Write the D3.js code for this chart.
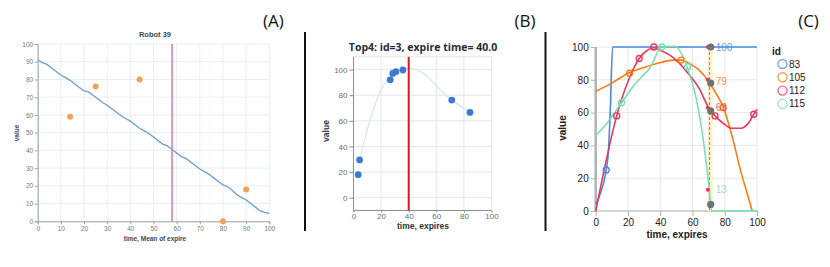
<!DOCTYPE html>
<html>
<head>
<meta charset="utf-8">
<script src="https://cdn.jsdelivr.net/npm/d3@7"></script>
<style>
  body { margin: 0; background: #fff; }
  svg { display: block; }
</style>
</head>
<body>
<svg></svg>
<script>
var width = 830;
var height = 267;

// ---- panel A data
var robotLine = [[0,91],[2,89.5],[4,88.5],[6,86.5],[8,84.5],[10,82.5],[12,81],[14,79.5],[16,77.5],[18,75.5],
  [20,73.5],[22,73],[24,71],[26,69],[28,67],[30,65.5],[32,63.5],[34,61.5],[36,59.5],[38,58],[40,56.5],
  [42,54.5],[44,52.5],[46,51],[48,49.5],[50,47.5],[52,45.5],[54,43.5],[56,42.5],[58,40.5],[60,38.5],
  [62,36.5],[64,35.5],[66,33.5],[68,31.5],[70,29.5],[72,28],[74,26.5],[76,24.5],[78,22.5],[80,20.5],
  [82,19.5],[84,17.5],[86,15],[88,13.5],[90,12],[92,10],[94,8],[96,6],[98,5],[100,4.5]];
var robotPoints = [[14,59],[25,76],[44,80],[80,0],[90,18]];
var robotMarker = 58;
var ticksA = d3.range(0, 101, 10);

// ---- panel B data
var topPoints = [[3.4,18],[4.4,29.5],[26.6,92],[28.5,97],[30.7,98.4],[35.8,99.7],[71.2,76.2],[84.4,66.6]];
var topCurve = [[4.4,29.7],[8,45],[11.7,60],[15,71],[19,83],[25,93.7],[30,98.5],[36,101],[42,101.5],
  [50.7,97.6],[55,93],[60.5,87],[65,82],[70.2,76.8],[77.5,71.5],[84.1,66.4]];
var topExpire = 40;
var ticksBx = [0,20,40,60,80,100];
var ticksBy = [0,20,40,60,80,100];

// ---- panel C data
var ids = ["83","105","112","115"];
var idColors = ["#4a86e8","#fb7d12","#e8385c","#79deb1"];
var line83 = [[0,4],[3,11],[6.5,25],[8,38],[9,60],[10.5,100],[100,100]];
var line105 = [[0,73],[10,78],[20,84],[30,87.5],[40,90.5],[48,92],[53,92],[58,90],[64,86],[70,79],
  [75,71],[79,63.5],[85,44],[90,24],[95,7],[97,0]];
var line112 = [[0,0],[5,24],[13,58],[20,79],[27,93],[32,98],[36,99.5],[40,98],[46,95],[52,90],[58,83],
  [64,75],[70,63],[74,58],[79,53.5],[84,50.5],[90,50.5],[95,54],[98,59],[100,62]];
var line115 = [[0,46],[7,53.5],[16,66],[24,77],[34,88],[41,100],[49,100.5],[57,87],[62,70],[67,41],
  [70,17],[72,0],[100,0]];
var marks83 = [[6.5,25]];
var marks105 = [[21,84],[53,92],[79,63]];
var marks112 = [[13,58],[27,93],[36,100],[74,58],[98,59]];
var marks115 = [[16,66],[41,100],[57,88]];
var cursorX = 70.5;
var cursorDots = [100,80,63,13];
var cursorGray = [100,78,61,4];
var cursorLabels = ["100","79","63","13"];
var ticksC = [0,20,40,60,80,100];

var svg = d3.select('svg')
    .attr("width", width)
    .attr("height", height);

// separators and panel letters
[305, 545.5].forEach(function(x) {
  svg.append('line')
    .attr("x1", x).attr("x2", x)
    .attr("y1", 32).attr("y2", 231)
    .attr("stroke", '#111')
    .attr("stroke-width", 2);
});
[["(A)",273.5],["(B)",525],["(C)",808.5]].forEach(function(d) {
  svg.append('text')
    .attr("x", d[1]).attr("y", 27)
    .attr("text-anchor", 'middle')
    .attr("font-family", 'Open Sans, sans-serif')
    .attr("font-size", 17)
    .attr("fill", '#111')
    .text(d[0]);
});

// ================= panel A
var xA = d3.scaleLinear().domain([0,100]).range([37.7,269.3]);
var yA = d3.scaleLinear().domain([0,100]).range([221.3,44]);
var gA = svg.append('g').attr("font-family", 'Liberation Sans, Arial, sans-serif');

gA.append('g').selectAll('line').data(ticksA).enter().append('line')
    .attr("x1", function(d){ return xA(d); }).attr("x2", function(d){ return xA(d); })
    .attr("y1", yA(0)).attr("y2", yA(100))
    .attr("stroke", '#e2ebef').attr("stroke-width", 0.8);
gA.append('g').selectAll('line').data(ticksA).enter().append('line')
    .attr("x1", xA(0)).attr("x2", xA(100))
    .attr("y1", function(d){ return yA(d); }).attr("y2", function(d){ return yA(d); })
    .attr("stroke", '#e2ebef').attr("stroke-width", 0.8);

var axA1 = gA.append('g').attr("transform", "translate(0," + yA(0) + ")")
    .call(d3.axisBottom(xA).tickValues(ticksA).tickSize(3).tickPadding(2));
var axA2 = gA.append('g').attr("transform", "translate(" + xA(0) + ",0)")
    .call(d3.axisLeft(yA).tickValues(ticksA).tickSize(3).tickPadding(1.5));
[axA1, axA2].forEach(function(ax) {
  ax.select('.domain').attr("stroke", '#9aa4aa');
  ax.selectAll('.tick line').attr("stroke", '#9aa4aa');
  ax.selectAll('text').attr("font-size", 6.5).attr("fill", '#777').attr("font-family", 'Liberation Sans, Arial, sans-serif');
});

gA.append('path')
    .datum(robotLine)
    .attr("d", d3.line().x(function(d){ return xA(d[0]); }).y(function(d){ return yA(d[1]); }))
    .attr("fill", 'none')
    .attr("stroke", '#6a9fcc')
    .attr("stroke-width", 1.3);
gA.append('line')
    .attr("x1", xA(robotMarker)).attr("x2", xA(robotMarker))
    .attr("y1", yA(100)).attr("y2", yA(0))
    .attr("stroke", '#d57aa5').attr("stroke-width", 1.5);
gA.selectAll('circle.pt').data(robotPoints).enter().append('circle')
    .attr("class", 'pt')
    .attr("cx", function(d){ return xA(d[0]); })
    .attr("cy", function(d){ return yA(d[1]); })
    .attr("r", 3)
    .attr("fill", '#f3a155');
gA.append('text')
    .attr("x", 155).attr("y", 36.5)
    .attr("text-anchor", 'middle')
    .attr("font-size", 7.5).attr("font-weight", 'bold').attr("fill", '#3c4a56')
    .text("Robot 39");
gA.append('text')
    .attr("x", 155).attr("y", 240.5)
    .attr("text-anchor", 'middle')
    .attr("font-size", 6.5).attr("font-weight", 'bold').attr("fill", '#3c4a56')
    .text("time, Mean of expire");
gA.append('text')
    .attr("transform", "translate(19,133) rotate(-90)")
    .attr("text-anchor", 'middle')
    .attr("font-size", 6.5).attr("font-weight", 'bold').attr("fill", '#3c4a56')
    .text("value");

// ================= panel B
var xB = d3.scaleLinear().domain([0,100]).range([353.5,491.5]);
var yB = d3.scaleLinear().domain([-10,110]).range([210.5,56.8]);
var gB = svg.append('g').attr("font-family", 'Liberation Sans, Arial, sans-serif');

gB.append('g').selectAll('line').data(ticksBx).enter().append('line')
    .attr("x1", function(d){ return xB(d); }).attr("x2", function(d){ return xB(d); })
    .attr("y1", yB(-10)).attr("y2", yB(110))
    .attr("stroke", '#e1e7ec').attr("stroke-width", 1);
gB.append('g').selectAll('line').data(ticksBy.concat([110])).enter().append('line')
    .attr("x1", xB(0)).attr("x2", xB(100))
    .attr("y1", function(d){ return yB(d); }).attr("y2", function(d){ return yB(d); })
    .attr("stroke", '#e1e7ec').attr("stroke-width", 1);

var axB1 = gB.append('g').attr("transform", "translate(0," + yB(-10) + ")")
    .call(d3.axisBottom(xB).tickValues(ticksBx).tickSize(2).tickPadding(1));
var axB2 = gB.append('g').attr("transform", "translate(" + xB(0) + ",0)")
    .call(d3.axisLeft(yB).tickValues(ticksBy).tickSize(4).tickPadding(2));
[axB1, axB2].forEach(function(ax) {
  ax.select('.domain').attr("stroke", '#8a8f94');
  ax.selectAll('.tick line').attr("stroke", '#8a8f94');
  ax.selectAll('text').attr("font-size", 8).attr("fill", '#6a6f74').attr("font-family", 'Liberation Sans, Arial, sans-serif');
});
axB1.select('.domain').attr("d", "M" + xB(0) + ",0H" + xB(100));
axB2.select('.domain').attr("d", "M0," + yB(-10) + "V" + yB(110));

gB.append('path')
    .datum(topCurve)
    .attr("d", d3.line().curve(d3.curveBasis).x(function(d){ return xB(d[0]); }).y(function(d){ return yB(d[1]); }))
    .attr("fill", 'none')
    .attr("stroke", '#d7e6f4')
    .attr("stroke-width", 1.3);
gB.append('line')
    .attr("x1", xB(topExpire)).attr("x2", xB(topExpire))
    .attr("y1", yB(110)).attr("y2", yB(-10))
    .attr("stroke", '#e4141b').attr("stroke-width", 2);
gB.selectAll('circle.pt').data(topPoints).enter().append('circle')
    .attr("class", 'pt')
    .attr("cx", function(d){ return xB(d[0]); })
    .attr("cy", function(d){ return yB(d[1]); })
    .attr("r", 3.4)
    .attr("fill", '#3a7ad3');
gB.append('text')
    .attr("x", 423).attr("y", 51)
    .attr("text-anchor", 'middle')
    .attr("font-family", 'Open Sans, sans-serif')
    .attr("font-size", 10.5).attr("font-weight", 'bold').attr("fill", '#1f2c3a')
    .text("Top4: id=3, expire time= 40.0");
gB.append('text')
    .attr("x", 423).attr("y", 229)
    .attr("text-anchor", 'middle')
    .attr("font-size", 8.5).attr("font-weight", 'bold').attr("fill", '#2a3540')
    .text("time, expires");
gB.append('text')
    .attr("transform", "translate(329,131) rotate(-90)")
    .attr("text-anchor", 'middle')
    .attr("font-size", 8.5).attr("font-weight", 'bold').attr("fill", '#2a3540')
    .text("value");

// ================= panel C
var xC = d3.scaleLinear().domain([0,100]).range([595.7,757]);
var yC = d3.scaleLinear().domain([0,100]).range([211,47]);
var gC = svg.append('g').attr("font-family", 'Liberation Sans, Arial, sans-serif');

gC.append('g').selectAll('line').data(ticksC).enter().append('line')
    .attr("x1", function(d){ return xC(d); }).attr("x2", function(d){ return xC(d); })
    .attr("y1", yC(0)).attr("y2", yC(100))
    .attr("stroke", '#e8e8e8').attr("stroke-width", 1);
gC.append('g').selectAll('line').data(ticksC).enter().append('line')
    .attr("x1", xC(0)).attr("x2", xC(100))
    .attr("y1", function(d){ return yC(d); }).attr("y2", function(d){ return yC(d); })
    .attr("stroke", '#e8e8e8').attr("stroke-width", 1);

var axC1 = gC.append('g').attr("transform", "translate(0," + yC(0) + ")")
    .call(d3.axisBottom(xC).tickValues(ticksC).tickSize(5).tickPadding(3));
var axC2 = gC.append('g').attr("transform", "translate(" + xC(0) + ",0)")
    .call(d3.axisLeft(yC).tickValues(ticksC).tickSize(5).tickPadding(2));
[axC1, axC2].forEach(function(ax) {
  ax.select('.domain').attr("stroke", '#b0b4b6');
  ax.selectAll('.tick line').attr("stroke", '#b0b4b6');
  ax.selectAll('text').attr("font-size", 10).attr("fill", '#222').attr("font-family", 'Liberation Sans, Arial, sans-serif');
});
axC1.select('.domain').attr("d", "M" + xC(0) + ",0H" + xC(100));
axC2.select('.domain').attr("d", "M0," + yC(0) + "V" + yC(100)).attr("stroke-width", 2.5);

// cursor band + dashed rule
gC.append('rect')
    .attr("x", xC(69.5)).attr("y", yC(100))
    .attr("width", xC(72.5) - xC(69.5))
    .attr("height", yC(0) - yC(100))
    .attr("fill", '#f7f0c6').attr("opacity", 0.85);
gC.append('line')
    .attr("x1", xC(cursorX)).attr("x2", xC(cursorX))
    .attr("y1", yC(100)).attr("y2", yC(0))
    .attr("stroke", '#ec5a5a').attr("stroke-width", 1)
    .attr("stroke-dasharray", '3,2');

var lineC = d3.line().curve(d3.curveMonotoneX)
    .x(function(d){ return xC(d[0]); }).y(function(d){ return yC(d[1]); });
var seriesC = [line83, line105, line112, line115];
var marksC = [marks83, marks105, marks112, marks115];
seriesC.forEach(function(s, i) {
  gC.append('path')
    .datum(s)
    .attr("d", lineC)
    .attr("fill", 'none')
    .attr("stroke", idColors[i])
    .attr("stroke-width", 1.6);
});
marksC.forEach(function(m, i) {
  gC.selectAll('circle.m' + i).data(m).enter().append('circle')
    .attr("class", 'm' + i)
    .attr("cx", function(d){ return xC(d[0]); })
    .attr("cy", function(d){ return yC(d[1]); })
    .attr("r", 3)
    .attr("fill", 'none')
    .attr("stroke", idColors[i])
    .attr("stroke-width", 1.3);
});

gC.selectAll('circle.rd').data(cursorDots).enter().append('circle')
    .attr("class", 'rd')
    .attr("cx", xC(69.5))
    .attr("cy", function(d){ return yC(d); })
    .attr("r", 2)
    .attr("fill", '#e8385c');
gC.selectAll('circle.gr').data(cursorGray).enter().append('circle')
    .attr("class", 'gr')
    .attr("cx", xC(71.3))
    .attr("cy", function(d){ return yC(d); })
    .attr("r", 3.6)
    .attr("fill", '#6f7371');
gC.selectAll('text.lb').data(cursorLabels).enter().append('text')
    .attr("class", 'lb')
    .attr("x", xC(71.3) + 5)
    .attr("y", function(d){ return yC(+d) + 3.5; })
    .attr("font-size", 10)
    .attr("fill", function(d, i){ return idColors[i]; })
    .attr("opacity", 0.8)
    .text(function(d){ return d; });

gC.append('text')
    .attr("x", 677).attr("y", 238)
    .attr("text-anchor", 'middle')
    .attr("font-size", 10).attr("font-weight", 'bold').attr("fill", '#222')
    .text("time, expires");
gC.append('text')
    .attr("transform", "translate(566,128) rotate(-90)")
    .attr("text-anchor", 'middle')
    .attr("font-size", 10).attr("font-weight", 'bold').attr("fill", '#222')
    .text("value");

// legend
var legend = gC.append('g');
legend.append('text')
    .attr("x", 772).attr("y", 55)
    .attr("font-size", 10).attr("font-weight", 'bold').attr("fill", '#222')
    .text("id");
var items = legend.selectAll('g.item').data(ids).enter().append('g')
    .attr("class", 'item')
    .attr("transform", function(d, i){ return "translate(782.5," + (64 + i * 13.3) + ")"; });
items.append('circle')
    .attr("r", 4.5)
    .attr("fill", 'none')
    .attr("stroke", function(d, i){ return idColors[i]; })
    .attr("stroke-opacity", 0.75)
    .attr("stroke-width", 1.4);
items.append('text')
    .attr("x", 6.5).attr("y", 3.5)
    .attr("font-size", 10).attr("fill", '#222')
    .text(function(d){ return d; });
</script>
</body>
</html>
